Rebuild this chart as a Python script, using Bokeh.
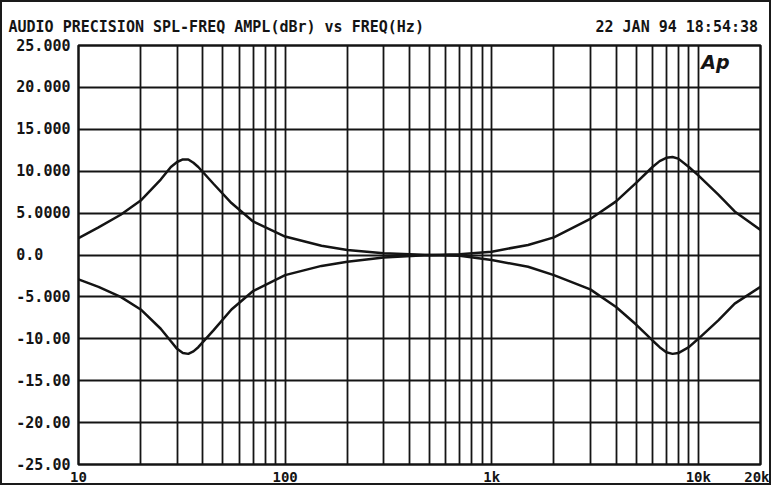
from bokeh.plotting import figure
from bokeh.models import FixedTicker, Label, Title
from bokeh.embed import file_html
from bokeh.resources import INLINE

# ---- data ----
freqs = [10, 12.5, 16, 20, 25, 28, 30, 32, 34, 36, 38, 45, 55, 70, 100, 150, 200, 300,
         500, 700, 1000, 1500, 2000, 3000, 4000, 5000, 6000, 6500, 7000, 7500, 8000,
         9000, 10000, 12500, 15000, 20000]
boost = [2.0, 3.3, 4.8, 6.5, 9.0, 10.5, 11.1, 11.4, 11.4, 11.0, 10.5, 8.5, 6.2, 4.0, 2.2,
         1.1, 0.6, 0.2, 0.0, 0.1, 0.4, 1.2, 2.1, 4.3, 6.4, 8.6, 10.5, 11.2, 11.6, 11.7,
         11.5, 10.5, 9.5, 7.2, 5.2, 3.0]
cut = [-2.9, -3.8, -5.0, -6.5, -8.8, -10.3, -11.2, -11.7, -11.8, -11.5, -11.0, -9.0, -6.5,
       -4.3, -2.4, -1.3, -0.8, -0.3, 0.0, -0.1, -0.6, -1.4, -2.4, -4.1, -6.2, -8.3, -10.2,
       -11.0, -11.6, -11.8, -11.7, -11.0, -10.0, -7.8, -5.8, -3.8]

x_ticks = [10, 100, 1000, 10000, 20000]
x_tick_labels = ["10", "100", "1k", "10k", "20k"]
x_grid = [20, 30, 40, 50, 60, 70, 80, 90, 100, 200, 300, 400, 500, 600, 700, 800, 900,
          1000, 2000, 3000, 4000, 5000, 6000, 7000, 8000, 9000, 10000]
y_ticks = [25, 20, 15, 10, 5, 0, -5, -10, -15, -20, -25]
y_tick_labels = ["25.000", "20.000", "15.000", "10.000", "5.0000", "0.0\u00a0\u00a0\u00a0",
                 "-5.000", "-10.00", "-15.00", "-20.00", "-25.00"]
title_text = "AUDIO PRECISION SPL-FREQ AMPL(dBr) vs FREQ(Hz)"
date_text = "22 JAN 94 18:54:38"

FONT = "DejaVu Sans Mono"
INK = "#141414"

p = figure(width=771, height=485, x_axis_type="log", x_range=(10, 20000),
           y_range=(-25, 25), output_backend="svg", toolbar_location=None,
           min_border_left=76, min_border_right=13, min_border_top=43,
           min_border_bottom=22)
p.styles = {"border": "2px solid #1a1a1a"}

p.outline_line_color = INK
p.outline_line_width = 2.5
p.outline_line_alpha = 1

# grid
p.xgrid.ticker = FixedTicker(ticks=x_grid)
p.xgrid.grid_line_color = INK
p.xgrid.grid_line_width = 1.8
p.xgrid.grid_line_alpha = 1
p.ygrid.ticker = FixedTicker(ticks=y_ticks)
p.ygrid.grid_line_color = INK
p.ygrid.grid_line_width = 2
p.ygrid.grid_line_alpha = 1

# axes
for ax in (p.xaxis[0], p.yaxis[0]):
    ax.axis_line_color = None
    ax.major_tick_line_color = None
    ax.minor_tick_line_color = None
    ax.major_tick_out = 0
    ax.major_tick_in = 0
    ax.major_label_text_font = FONT
    ax.major_label_text_font_style = "bold"
    ax.major_label_text_font_size = "15px"
    ax.major_label_text_color = INK

p.xaxis[0].ticker = FixedTicker(ticks=x_ticks)
p.xaxis[0].major_label_overrides = dict(zip(x_ticks, x_tick_labels))
p.xaxis[0].major_label_text_font_size = "14px"
p.xaxis[0].major_label_standoff = 4
p.yaxis[0].ticker = FixedTicker(ticks=y_ticks)
p.yaxis[0].major_label_overrides = dict(zip(y_ticks, y_tick_labels))
p.yaxis[0].major_label_standoff = 8

# curves
p.line(freqs, boost, line_color=INK, line_width=2.5)
p.line(freqs, cut, line_color=INK, line_width=2.5)

# header line: title on the left, date on the right (monospace padding)
header = title_text + "\u00a0" * 19 + date_text
p.add_layout(Title(text=header, align="left", offset=-70, standoff=19,
                   text_font=FONT, text_font_style="bold", text_font_size="15px",
                   text_color=INK), "above")

p.add_layout(Label(x=12100, y=23, text="Ap", text_align="center", text_baseline="middle",
                   text_font="DejaVu Sans", text_font_style="bold italic",
                   text_font_size="19px", text_color=INK))

open("out.html", "w").write(file_html(p, INLINE))
